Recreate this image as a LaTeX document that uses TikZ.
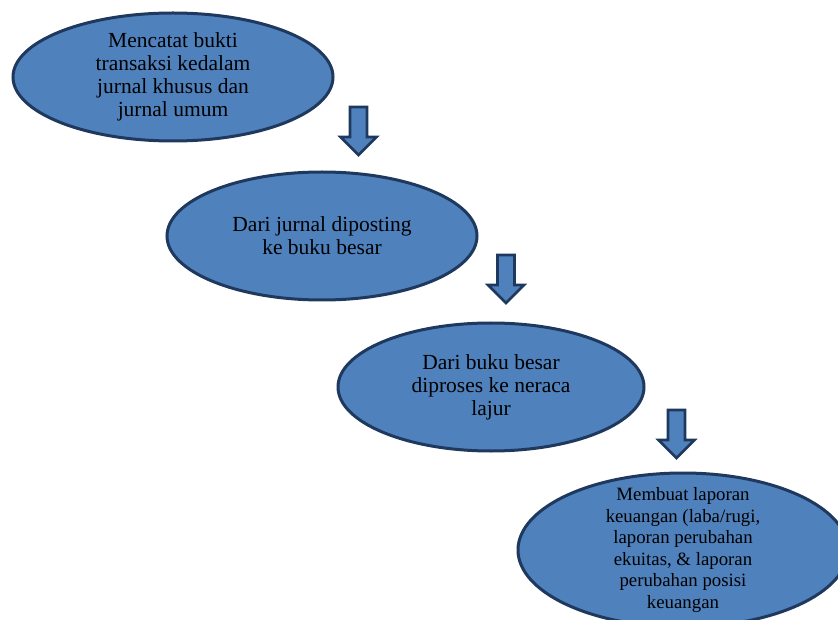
\documentclass[tikz,border=0pt]{standalone}
\usepackage{fontspec}
\setmainfont{Liberation Serif}
\usetikzlibrary{shapes.geometric}
\definecolor{blobfill}{RGB}{79,129,189}
\definecolor{blobline}{RGB}{31,56,93}
\tikzset{
  blob/.style={ellipse, draw=blobline, fill=blobfill, line width=3pt, inner sep=0pt},
  txt/.style={align=center, font=\fontsize{21.5}{23}\selectfont, text=black},
  smalltxt/.style={align=center, font=\fontsize{18.8}{21.5}\selectfont, text=black},
  blockarrow/.style={draw=blobline, fill=blobfill, line width=2.6pt, line join=miter}
}
\newcommand{\downarrowat}[2]{%
  \draw[blockarrow] (#1-8.5,#2) -- (#1+8.5,#2) -- (#1+8.5,#2+30) -- (#1+18,#2+30)
    -- (#1,#2+48) -- (#1-18,#2+30) -- (#1-8.5,#2+30) -- cycle;}
\begin{document}
\begin{tikzpicture}[x=1pt,y=-1pt]
\useasboundingbox (0,0) rectangle (838,620);
\begin{scope}
\clip (0,0) rectangle (838,620);
\node[blob, minimum width=320pt, minimum height=128pt] (e1) at (173,77) {};
\node[txt] (t1) at (e1.center) {Mencatat bukti\\transaksi kedalam\\jurnal khusus dan\\jurnal umum};

\node[blob, minimum width=310pt, minimum height=128pt] (e2) at (322,236) {};
\node[txt] (t2) at (e2.center) {Dari jurnal diposting\\ke buku besar};

\node[blob, minimum width=306pt, minimum height=128pt] (e3) at (491,387) {};
\node[txt] (t3) at (e3.center) {Dari buku besar\\diproses ke neraca\\lajur};

\node[blob, minimum width=330pt, minimum height=154pt] (e4) at (683,550) {};
\node[smalltxt] (t4) at (e4.center) {Membuat laporan\\keuangan (laba/rugi,\\laporan perubahan\\ekuitas, \& laporan\\perubahan posisi\\keuangan};

\downarrowat{358.5}{107}
\downarrowat{506}{255}
\downarrowat{676.5}{410}
\end{scope}
\end{tikzpicture}
\end{document}
